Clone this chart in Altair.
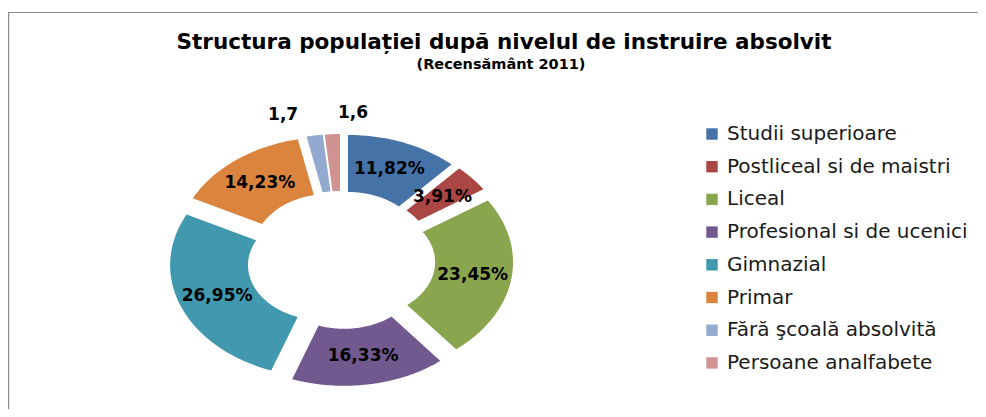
import altair as alt
import pandas as pd

# ---- data ----
categories = [
    "Studii superioare",
    "Postliceal si de maistri",
    "Liceal",
    "Profesional si de ucenici",
    "Gimnazial",
    "Primar",
    "Fără şcoală absolvită",
    "Persoane analfabete",
]
values = [11.82, 3.91, 23.45, 16.33, 26.95, 14.23, 1.7, 1.6]
colors = ["#4572A7", "#AA4643", "#89A54E", "#71588F", "#4198AF", "#DB843D", "#93A9CF", "#D19392"]
title_text = "Structura populației după nivelul de instruire absolvit"
subtitle_text = "(Recensământ 2011)"

# ---- layout constants (chart pixels) ----
W, H = 970, 401
CX, CY = 333, 252      # donut centre
SX = 1.367             # horizontal stretch of the donut
R_OUT, R_IN, EXPLODE, N = 112, 55, 14, 60
R_LBL_IN = (R_OUT + R_IN) / 2
R_LBL_OUT = 133
FONT = "DejaVu Sans"

df = pd.DataFrame({"cat": categories, "v": values, "k": list(range(len(values)))})

x_scale = alt.Scale(domain=[-CX / SX, (W - CX) / SX], range=[0, W], nice=False, zero=False)
y_scale = alt.Scale(domain=[CY - H, CY], range=[H, 0], nice=False, zero=False)
color_scale = alt.Scale(domain=categories, range=colors)

base = (
    alt.Chart(df)
    .transform_window(cum="sum(v)", sort=[alt.SortField("k")], frame=[None, 0])
    .transform_joinaggregate(total="sum(v)")
    .transform_calculate(
        a0="2*PI*(datum.cum-datum.v)/datum.total",
        a1="2*PI*datum.cum/datum.total",
    )
    .transform_calculate(am="(datum.a0+datum.a1)/2")
)

slices = (
    base.transform_calculate(idx=f"sequence(0, {2 * N + 2})")
    .transform_flatten(["idx"])
    .transform_calculate(
        ang=f"datum.idx <= {N} ? datum.a0 + (datum.a1-datum.a0)*datum.idx/{N} : datum.a1 - (datum.a1-datum.a0)*(datum.idx-{N + 1})/{N}",
        rr=f"datum.idx <= {N} ? {R_OUT} : {R_IN}",
    )
    .transform_calculate(
        px=f"datum.rr*sin(datum.ang) + {EXPLODE}*sin(datum.am)",
        py=f"datum.rr*cos(datum.ang) + {EXPLODE}*cos(datum.am)",
    )
    .mark_line(filled=True, strokeWidth=0.5, interpolate="linear")
    .encode(
        x=alt.X("px:Q", scale=x_scale, axis=None),
        y=alt.Y("py:Q", scale=y_scale, axis=None),
        order=alt.Order("idx:Q"),
        detail="cat:N",
        color=alt.Color(
            "cat:N",
            scale=color_scale,
            sort=categories,
            legend=alt.Legend(
                title=None,
                orient="none",
                legendX=694,
                legendY=116,
                symbolType="square",
                symbolSize=130,
                symbolStrokeWidth=0,
                labelFont=FONT,
                labelFontSize=20,
                labelColor="#1a1a1a",
                labelOffset=5,
                rowPadding=12.7,
                labelLimit=400,
            ),
        ),
    )
)

inner_labels = (
    base.transform_filter("datum.v >= 3")
    .transform_calculate(
        lx=f"({R_LBL_IN}+{EXPLODE})*sin(datum.am)",
        ly=f"({R_LBL_IN}+{EXPLODE})*cos(datum.am)",
        txt="replace(format(datum.v, '.2f'), '.', ',') + '%'",
    )
    .mark_text(font=FONT, fontSize=17, fontWeight="bold", color="#000000")
    .encode(
        x=alt.X("lx:Q", scale=x_scale, axis=None),
        y=alt.Y("ly:Q", scale=y_scale, axis=None),
        text="txt:N",
    )
)

outer_base = base.transform_calculate(
    lx=f"({R_LBL_OUT}+{EXPLODE})*sin(datum.am)",
    ly=f"({R_LBL_OUT}+{EXPLODE})*cos(datum.am)",
    txt="replace(format(datum.v, '.1f'), '.', ',')",
)
outer_left = (
    outer_base.transform_filter("datum.k == 6")
    .mark_text(font=FONT, fontSize=17, fontWeight="bold", color="#000000", align="right", dx=-12)
    .encode(x=alt.X("lx:Q", scale=x_scale, axis=None), y=alt.Y("ly:Q", scale=y_scale, axis=None), text="txt:N")
)
outer_right = (
    outer_base.transform_filter("datum.k == 7")
    .mark_text(font=FONT, fontSize=17, fontWeight="bold", color="#000000", align="left", dx=7)
    .encode(x=alt.X("lx:Q", scale=x_scale, axis=None), y=alt.Y("ly:Q", scale=y_scale, axis=None), text="txt:N")
)

title = (
    alt.Chart(pd.DataFrame({"t": [title_text]}))
    .mark_text(font=FONT, fontSize=21.5, fontWeight="bold", color="#000000")
    .encode(text="t:N", x=alt.value(496), y=alt.value(34.5))
)
subtitle = (
    alt.Chart(pd.DataFrame({"t": [subtitle_text]}))
    .mark_text(font=FONT, fontSize=14.5, fontWeight="bold", color="#000000")
    .encode(text="t:N", x=alt.value(493), y=alt.value(56.5))
)

border_top = (
    alt.Chart(pd.DataFrame({"a": [0]}))
    .mark_rule(color="#8a8a8a", strokeWidth=1.2)
    .encode(x=alt.value(0), x2=alt.value(W), y=alt.value(4.5))
)
border_left = (
    alt.Chart(pd.DataFrame({"a": [0]}))
    .mark_rule(color="#8a8a8a", strokeWidth=1.2)
    .encode(x=alt.value(0.6), y=alt.value(4), y2=alt.value(H))
)

chart = (
    alt.layer(border_top, border_left, slices, inner_labels, outer_left, outer_right, title, subtitle)
    .properties(width=W, height=H, padding=0, autosize=alt.AutoSizeParams(type="none"))
    .configure_view(stroke=None)
)

chart.save("out.html", embed_options={"renderer": "svg", "actions": False})
